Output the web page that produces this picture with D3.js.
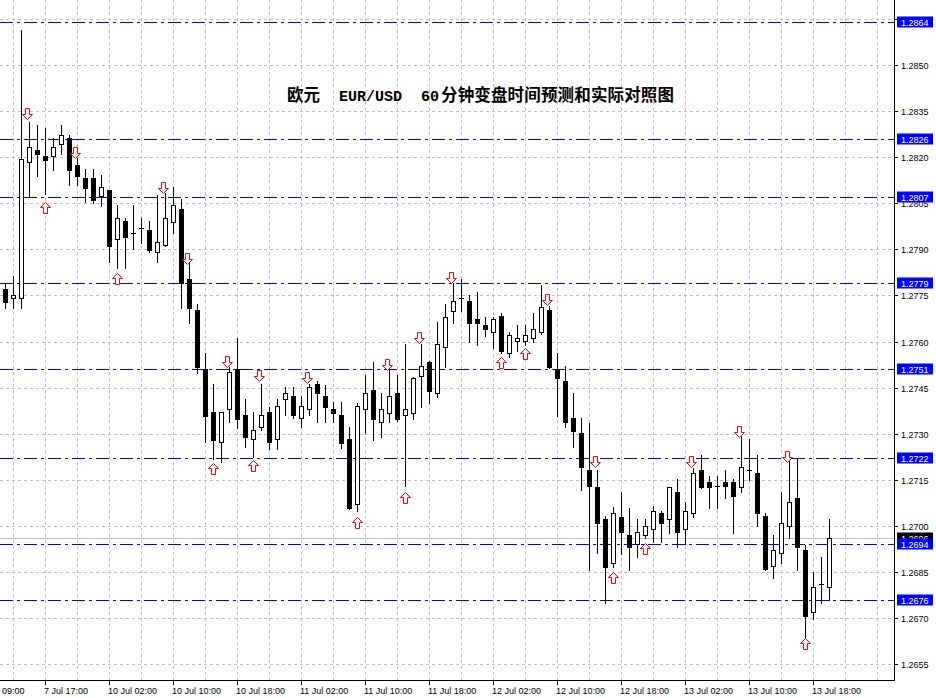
<!DOCTYPE html>
<html>
<head>
<meta charset="utf-8">
<script src="https://cdn.jsdelivr.net/npm/d3@7"></script>
<style>
  html, body { margin: 0; padding: 0; background: #ffffff; }
  svg { display: block; }
</style>
</head>
<body>
<svg id="chart" width="936" height="698"></svg>
<script>
// ---------------- DATA ----------------
const opens = [1.27770,1.27741,1.27741,1.28184,1.28224,1.28205,1.28203,1.28242,1.28262,1.28175,
1.28132,1.28132,1.28073,1.28093,1.27933,1.27993,1.27952,1.27971,1.27963,1.27891,
1.27914,1.27990,1.28031,1.27804,1.27703,1.27510,1.27370,1.27272,1.27379,1.27510,
1.27361,1.27282,1.27321,1.27370,1.27282,1.27412,1.27422,1.27350,1.27379,1.27462,
1.27423,1.27380,1.27361,1.27283,1.27070,1.27379,1.27442,1.27339,1.27368,1.27431,
1.27360,1.27368,1.27489,1.27532,1.27431,1.27581,1.27700,1.27741,1.27732,1.27672,
1.27654,1.27630,1.27683,1.27562,1.27601,1.27601,1.27610,1.27630,1.27702,1.27510,
1.27471,1.27350,1.27303,1.27182,1.27125,1.27021,1.26878,1.27030,1.26969,1.26940,
1.26969,1.26989,1.27041,1.27021,1.27109,1.26989,1.27041,1.27182,1.27142,1.27130,
1.27142,1.27142,1.27125,1.27182,1.27171,1.27032,1.26869,1.26911,1.26999,1.27091,
1.26921,1.26718,1.26811,1.26800];
const highs = [1.27790,1.27813,1.28614,1.28314,1.28304,1.28295,1.28262,1.28304,1.28272,1.28198,
1.28162,1.28162,1.28142,1.28093,1.28045,1.28001,1.28045,1.28001,1.27993,1.28076,
1.28083,1.28102,1.28064,1.27860,1.27722,1.27562,1.27462,1.27370,1.27518,1.27612,
1.27413,1.27370,1.27462,1.27388,1.27412,1.27453,1.27453,1.27422,1.27462,1.27471,
1.27458,1.27402,1.27402,1.27323,1.27400,1.27491,1.27534,1.27431,1.27507,1.27491,
1.27591,1.27485,1.27591,1.27535,1.27665,1.27722,1.27792,1.27803,1.27751,1.27761,
1.27679,1.27679,1.27692,1.27630,1.27654,1.27654,1.27692,1.27784,1.27716,1.27562,
1.27520,1.27431,1.27350,1.27334,1.27182,1.27032,1.27062,1.27109,1.27059,1.27021,
1.27021,1.27065,1.27049,1.27128,1.27152,1.27079,1.27188,1.27231,1.27162,1.27162,
1.27182,1.27152,1.27293,1.27283,1.27231,1.27041,1.26970,1.27109,1.27214,1.27220,
1.26938,1.26849,1.26899,1.27021];
const lows = [1.27710,1.27710,1.27710,1.28072,1.28140,1.28080,1.28158,1.28211,1.28109,1.28109,
1.28053,1.28052,1.28042,1.27860,1.27840,1.27840,1.27900,1.27922,1.27891,1.27860,
1.27911,1.27952,1.27710,1.27661,1.27499,1.27272,1.27217,1.27209,1.27339,1.27318,
1.27258,1.27225,1.27312,1.27250,1.27249,1.27361,1.27350,1.27321,1.27360,1.27339,
1.27339,1.27337,1.27253,1.27055,1.27048,1.27301,1.27279,1.27290,1.27339,1.27341,
1.27129,1.27349,1.27388,1.27401,1.27419,1.27518,1.27661,1.27700,1.27599,1.27589,
1.27618,1.27580,1.27562,1.27551,1.27570,1.27589,1.27599,1.27626,1.27514,1.27358,
1.27321,1.27258,1.27117,1.26856,1.26911,1.26748,1.26867,1.26908,1.26856,1.26899,
1.26959,1.26948,1.26948,1.26978,1.26930,1.26941,1.27030,1.27122,1.27059,1.27059,
1.27091,1.26978,1.27109,1.27149,1.26999,1.26855,1.26829,1.26878,1.26959,1.26856,
1.26636,1.26697,1.26748,1.26759];
const closes = [1.27730,1.27751,1.28193,1.28232,1.28212,1.28192,1.28233,1.28271,1.28159,1.28140,
1.28101,1.28062,1.28102,1.27912,1.28001,1.27941,1.27952,1.27971,1.27898,1.27923,
1.28001,1.28045,1.27792,1.27710,1.27518,1.27359,1.27279,1.27370,1.27500,1.27349,
1.27290,1.27311,1.27360,1.27272,1.27389,1.27431,1.27360,1.27389,1.27451,1.27431,
1.27388,1.27368,1.27271,1.27059,1.27390,1.27431,1.27349,1.27379,1.27423,1.27349,
1.27379,1.27481,1.27520,1.27440,1.27591,1.27681,1.27732,1.27741,1.27661,1.27661,
1.27640,1.27672,1.27570,1.27620,1.27610,1.27620,1.27640,1.27711,1.27518,1.27481,
1.27339,1.27310,1.27190,1.27129,1.27008,1.26867,1.27041,1.26979,1.26930,1.26979,
1.26999,1.27049,1.27008,1.27125,1.26979,1.27049,1.27171,1.27125,1.27125,1.27130,
1.27129,1.27098,1.27190,1.27182,1.27041,1.26858,1.26921,1.27008,1.27079,1.26930,
1.26707,1.26800,1.26811,1.26959];

// bar index of each time-axis label
const timeLabelIdx = [-3, 5, 13, 21, 29, 37, 45, 53, 61, 69, 77, 85, 93, 101];
const timeLabels = ["09:00", "7 Jul 17:00", "10 Jul 02:00", "10 Jul 10:00", "10 Jul 18:00",
  "11 Jul 02:00", "11 Jul 10:00", "11 Jul 18:00", "12 Jul 02:00", "12 Jul 10:00",
  "12 Jul 18:00", "13 Jul 02:00", "13 Jul 10:00", "13 Jul 18:00"];

const priceTicks = [1.2655, 1.2670, 1.2685, 1.2700, 1.2715, 1.2730, 1.2745, 1.2760,
  1.2775, 1.2790, 1.2805, 1.2820, 1.2835, 1.2850, 1.2865];

const levelPrices = [1.2864, 1.2826, 1.2807, 1.2779, 1.2751, 1.2722, 1.2694, 1.2676];
const bidPrice = 1.2696;

const upArrowIdx = [5, 14, 26, 31, 44, 50, 62, 65, 76, 80, 100];
const upArrowPrice = [1.28053, 1.27822, 1.27204, 1.27214, 1.27030, 1.27111, 1.27549, 1.27578, 1.26849, 1.26943, 1.26634];
const downArrowIdx = [3, 9, 20, 23, 28, 32, 38, 48, 52, 56, 68, 74, 86, 92, 98];
const downArrowPrice = [1.28325, 1.28199, 1.28085, 1.27851, 1.27516, 1.27472, 1.27466, 1.27507, 1.27596, 1.27790, 1.27720, 1.27192, 1.27190, 1.27288, 1.27207];

const titleParts = ["欧元", "EUR/USD", "60", "分钟变盘时间预测和实际对照图"];

// ---------------- LAYOUT ----------------
const W = 936, H = 698;
const plotRight = 894, plotBottom = 680;
const n = opens.length;
const svg = d3.select("#chart");
svg.append("rect").attr("width", W).attr("height", H).attr("fill", "#ffffff");

const x = d3.scaleLinear().domain([0, n - 1]).range([5.5, 5.5 + 8 * (n - 1)]);
const y = d3.scaleLinear().domain([1.26498, 1.28712]).range([plotBottom, 0]);
const py = p => Math.round(y(p)) + 0.5;
const fmt = d3.format(".4f");

const font = "'Liberation Sans', Arial, sans-serif";

// grid
const grid = svg.append("g").attr("stroke", "#c0c0c0").attr("stroke-width", 1).attr("stroke-dasharray", "3,3");
grid.selectAll("line.h").data(priceTicks).join("line")
  .attr("x1", 0).attr("x2", plotRight).attr("y1", d => py(d)).attr("y2", d => py(d));
grid.selectAll("line.v").data(d3.range(1, 110, 4)).join("line")
  .attr("x1", d => x(d)).attr("x2", d => x(d)).attr("y1", 0).attr("y2", plotBottom);

// bid line
svg.append("line").attr("x1", 0).attr("x2", plotRight).attr("y1", py(bidPrice)).attr("y2", py(bidPrice))
  .attr("stroke", "#c0c0c0").attr("stroke-width", 1);

// level lines
svg.append("g").selectAll("line").data(levelPrices).join("line")
  .attr("x1", 0).attr("x2", plotRight).attr("y1", d => py(d)).attr("y2", d => py(d))
  .attr("stroke", "#0000ff").attr("stroke-width", 1).attr("stroke-dasharray", "13,4,3,4");

// candles
const candles = svg.append("g");
const idx = d3.range(n);
candles.selectAll("line.wick").data(idx).join("line")
  .attr("x1", i => x(i)).attr("x2", i => x(i))
  .attr("y1", i => py(highs[i]) - 0.5).attr("y2", i => py(lows[i]) + 0.5)
  .attr("stroke", "#000").attr("stroke-width", 1);
candles.selectAll("rect.body").data(idx.filter(i => py(opens[i]) !== py(closes[i]))).join("rect")
  .attr("x", i => x(i) - 2)
  .attr("width", 4)
  .attr("y", i => py(Math.max(opens[i], closes[i])))
  .attr("height", i => py(Math.min(opens[i], closes[i])) - py(Math.max(opens[i], closes[i])))
  .attr("fill", i => closes[i] >= opens[i] ? "#ffffff" : "#000000")
  .attr("stroke", "#000").attr("stroke-width", 1);
candles.selectAll("line.doji").data(idx.filter(i => py(opens[i]) === py(closes[i]))).join("line")
  .attr("x1", i => x(i) - 2.5).attr("x2", i => x(i) + 2.5)
  .attr("y1", i => py(opens[i])).attr("y2", i => py(opens[i]))
  .attr("stroke", "#000").attr("stroke-width", 1);

// arrows
function upPath(cx, ty) {
  return `M${cx},${ty} L${cx + 5},${ty + 5} L${cx + 2},${ty + 5} L${cx + 2},${ty + 11} L${cx - 2},${ty + 11} L${cx - 2},${ty + 5} L${cx - 5},${ty + 5} Z`;
}
function downPath(cx, by) {
  return `M${cx},${by} L${cx + 5},${by - 5} L${cx + 2},${by - 5} L${cx + 2},${by - 11} L${cx - 2},${by - 11} L${cx - 2},${by - 5} L${cx - 5},${by - 5} Z`;
}
const arrows = svg.append("g").attr("fill", "#ffffff").attr("stroke", "#ff0000").attr("stroke-width", 1);
arrows.selectAll("path.up").data(upArrowIdx).join("path")
  .attr("d", (d, k) => upPath(x(d), py(upArrowPrice[k])));
arrows.selectAll("path.down").data(downArrowIdx).join("path")
  .attr("d", (d, k) => downPath(x(d) - 2, py(downArrowPrice[k])));

// axes lines
svg.append("line").attr("x1", plotRight + 0.5).attr("x2", plotRight + 0.5).attr("y1", 0).attr("y2", plotBottom + 1)
  .attr("stroke", "#000");
svg.append("line").attr("x1", 0).attr("x2", plotRight + 1).attr("y1", plotBottom + 0.5).attr("y2", plotBottom + 0.5)
  .attr("stroke", "#000");

// price axis ticks & labels
const pa = svg.append("g");
pa.selectAll("line").data(priceTicks).join("line")
  .attr("x1", plotRight).attr("x2", plotRight + 4).attr("y1", d => py(d)).attr("y2", d => py(d))
  .attr("stroke", "#000");
pa.selectAll("text").data(priceTicks).join("text")
  .attr("x", 901).attr("y", d => py(d) + 3.5)
  .attr("font-family", font).attr("font-size", 9).attr("fill", "#000")
  .text(d => fmt(d));

// time axis ticks & labels
const ta = svg.append("g");
ta.selectAll("line").data(timeLabelIdx.filter(d => d >= 0)).join("line")
  .attr("x1", d => x(d)).attr("x2", d => x(d)).attr("y1", plotBottom).attr("y2", plotBottom + 5)
  .attr("stroke", "#000");
ta.selectAll("text").data(timeLabelIdx).join("text")
  .attr("x", d => Math.max(2, x(d) - 1.5)).attr("y", 694)
  .attr("font-family", font).attr("font-size", 9).attr("fill", "#000")
  .text((d, k) => timeLabels[k]);

// bid label (black)
const bidG = svg.append("g");
bidG.append("rect").attr("x", 897).attr("y", py(bidPrice) - 6).attr("width", 36).attr("height", 11).attr("fill", "#000");
bidG.append("text").attr("x", 901).attr("y", py(bidPrice) + 3.5)
  .attr("font-family", font).attr("font-size", 9).attr("fill", "#fff").text(fmt(bidPrice));

// level labels (blue)
const lg = svg.append("g").selectAll("g").data(levelPrices).join("g");
lg.append("rect").attr("x", 897).attr("y", d => py(d) - 6).attr("width", 36).attr("height", 11).attr("fill", "#0000ff");
lg.append("text").attr("x", 901).attr("y", d => py(d) + 3.5)
  .attr("font-family", font).attr("font-size", 9).attr("fill", "#fff").text(d => fmt(d));

// title
const tg = svg.append("g").attr("fill", "#000");
tg.append("text").attr("x", 287).attr("y", 101)
  .attr("font-family", "'Noto Sans CJK SC', sans-serif").attr("font-size", 16.5).attr("font-weight", 700)
  .text(titleParts[0]);
tg.append("text").attr("x", 339).attr("y", 101)
  .attr("font-family", "'Liberation Mono', monospace").attr("font-size", 15).attr("font-weight", 700)
  .text(titleParts[1]);
tg.append("text").attr("x", 421).attr("y", 101)
  .attr("font-family", "'Liberation Mono', monospace").attr("font-size", 15).attr("font-weight", 700)
  .text(titleParts[2]);
tg.append("text").attr("x", 441).attr("y", 101)
  .attr("font-family", "'Noto Sans CJK SC', sans-serif").attr("font-size", 16.5).attr("font-weight", 700)
  .attr("textLength", 233).attr("lengthAdjust", "spacing")
  .text(titleParts[3]);
</script>
</body>
</html>
